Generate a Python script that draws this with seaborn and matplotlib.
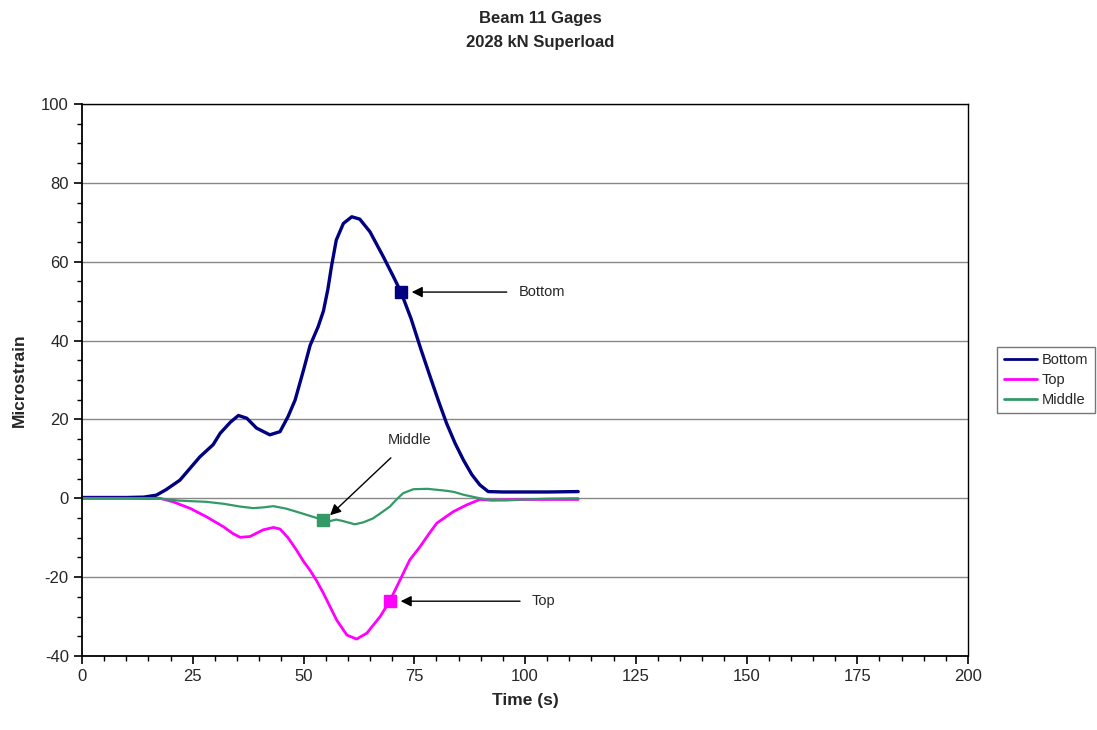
import matplotlib
matplotlib.use("Agg")
import matplotlib.pyplot as plt
from matplotlib.ticker import MultipleLocator
import seaborn as sns
import pandas as pd

# ---- data ----
bottom_t = [0, 5, 10, 14, 16.8, 19, 22.1, 26.6, 29.6, 31.2, 33.5, 35.3, 37.2, 39.4, 42.4, 44.7, 46.5, 48.1,
            50, 51.5, 53.3, 54.5, 55.5, 56.3, 57.4, 59.0, 60.9, 62.7, 65.0, 68.0, 70.3, 72.0, 74.3,
            76.5, 78.6, 80.5, 82.3, 84.2, 86.1, 88, 89.8, 91.7, 95, 100, 105, 112]
bottom_v = [0.2, 0.2, 0.2, 0.3, 0.8, 2.2, 4.6, 10.5, 13.6, 16.5, 19.3, 21.0, 20.3, 17.8, 16.1, 16.9, 20.7, 24.9,
            32.5, 38.8, 43.5, 47.5, 53.0, 58.7, 65.5, 69.7, 71.4, 70.8, 67.6, 61.3, 56.2, 52.3, 45.5,
            37.8, 30.8, 24.6, 19.0, 14.0, 9.7, 6.0, 3.4, 1.7, 1.6, 1.6, 1.6, 1.7]

top_t = [0, 5, 10, 15, 17.6, 20.6, 24.5, 28.1, 31.9, 34, 35.7, 37.9, 40.9, 43.2, 44.7, 46.5, 48.4, 50,
         51.5, 53, 54.5, 57.5, 59.8, 62.0, 64.3, 67.3, 69.5, 71.8, 74.0, 76.3, 78.2, 80.1, 83.8, 86.8, 89.8,
         92.5, 96, 100, 105, 112]
top_v = [0, 0, 0, -0.1, 0.0, -0.9, -2.6, -4.7, -7.2, -8.9, -9.9, -9.7, -8.0, -7.4, -7.8, -10.0, -13.1, -16.0,
         -18.3, -21.0, -24.1, -30.9, -34.7, -35.7, -34.2, -30.0, -26.0, -20.7, -15.6, -12.3, -9.2, -6.3, -3.4,
         -1.7, -0.3, -0.5, -0.4, -0.3, -0.3, -0.3]

middle_t = [0, 5, 10, 15, 17.5, 22.1, 28.1, 32, 35.7, 38.7, 41, 43.2, 46, 48.4, 51, 54.4, 55.5, 57.4, 59,
            61.6, 63.5, 65.7, 67.5, 69.5, 71, 72.5, 74.8, 78, 82.3, 84, 86.1, 89.8, 92, 95.8, 100, 105, 112]
middle_v = [0, 0, 0, 0, -0.1, -0.6, -0.9, -1.4, -2.1, -2.5, -2.3, -2.0, -2.6, -3.4, -4.3, -5.5, -5.9, -5.4, -5.8,
            -6.6, -6.1, -5.1, -3.7, -2.1, -0.3, 1.3, 2.3, 2.4, 1.9, 1.6, 0.9, 0.0, -0.4, -0.5, -0.3, -0.1, 0.0]

series_names = ["Bottom", "Top", "Middle"]
series_colors = ["#000080", "#FF00FF", "#339966"]

# marker points
marker_t = [72, 69.5, 54.5]
marker_v = [52.3, -26.1, -5.6]

x_ticks = [0, 25, 50, 75, 100, 125, 150, 175, 200]
y_ticks = [-40, -20, 0, 20, 40, 60, 80, 100]

# ---- build long-form table ----
frames = []
for name, t, v in zip(series_names, [bottom_t, top_t, middle_t], [bottom_v, top_v, middle_v]):
    frames.append(pd.DataFrame({"Time": t, "Microstrain": v, "series": name}))
df = pd.concat(frames, ignore_index=True)

sns.set_style("white")
plt.rcParams["font.family"] = ["Liberation Sans", "DejaVu Sans"]
plt.rcParams["axes.unicode_minus"] = False

fig = plt.figure(figsize=(10.97, 7.30), dpi=100)
ax = fig.add_axes([82 / 1097, 1 - 656 / 730, (968 - 82) / 1097, (656 - 104) / 730])

widths = {"Bottom": 2.4, "Top": 2.0, "Middle": 1.6}
for name, color in zip(series_names, series_colors):
    sub = df[df["series"] == name]
    sns.lineplot(data=sub, x="Time", y="Microstrain", color=color, lw=widths[name],
                 sort=False, estimator=None, ax=ax, label=name,
                 solid_joinstyle="round", solid_capstyle="round")

for name, color, mt, mv in zip(series_names, series_colors, marker_t, marker_v):
    ax.plot([mt], [mv], marker="s", color=color, markersize=9, linestyle="none", zorder=5)

# annotations (horizontal arrows for Bottom/Top)
ax.annotate("Bottom", xy=(73.8, marker_v[0]), xytext=(98.5, marker_v[0]), fontsize=10.5,
            va="center", ha="left",
            arrowprops=dict(arrowstyle="-|>", color="black", lw=1.0, mutation_scale=16, shrinkA=6))
ax.annotate("Top", xy=(71.3, marker_v[1]), xytext=(101.5, marker_v[1]), fontsize=10.5,
            va="center", ha="left",
            arrowprops=dict(arrowstyle="-|>", color="black", lw=1.0, mutation_scale=16, shrinkA=6))
ax.annotate("Middle", xy=(56.0, -4.3), xytext=(74, 14.8), fontsize=10.5, va="center", ha="center",
            arrowprops=dict(arrowstyle="-|>", color="black", lw=1.0, mutation_scale=16,
                            shrinkA=8, shrinkB=0))

ax.set_xlim(0, 200)
ax.set_ylim(-40, 100)
ax.set_xticks(x_ticks)
ax.set_yticks(y_ticks)
ax.xaxis.set_minor_locator(MultipleLocator(5))
ax.yaxis.set_minor_locator(MultipleLocator(5))
ax.tick_params(axis="both", which="major", direction="out", length=6, width=1.2, color="black",
               labelsize=12, bottom=True, left=True)
ax.tick_params(axis="both", which="minor", direction="out", length=3.5, width=1.0, color="black",
               bottom=True, left=True)
ax.grid(axis="y", which="major", color="#888888", lw=1.0)
ax.grid(axis="x", visible=False)
ax.set_axisbelow(True)
for side, sp in ax.spines.items():
    sp.set_color("black")
    sp.set_linewidth(1.3 if side in ("left", "bottom") else 1.0)
    sp.set_visible(True)

ax.set_xlabel("Time (s)", fontsize=12.5, fontweight="bold", labelpad=6)
ax.set_ylabel("Microstrain", fontsize=12.5, fontweight="bold", labelpad=10)

leg = ax.legend(loc="center left", bbox_to_anchor=(997 / 1097, 1 - 380 / 730),
                bbox_transform=fig.transFigure, frameon=True, fancybox=False,
                fontsize=10.5, handlelength=2.3, handletextpad=0.3, borderpad=0.45,
                labelspacing=0.4, borderaxespad=0)
leg.get_frame().set_edgecolor("#555555")
leg.get_frame().set_linewidth(1.0)
for line in leg.get_lines():
    line.set_linewidth(2.0)

fig.text(540 / 1097, 1 - 18 / 730, "Beam 11 Gages", ha="center", va="center",
         fontsize=12, fontweight="bold")
fig.text(540 / 1097, 1 - 43 / 730, "2028 kN Superload", ha="center", va="center",
         fontsize=12, fontweight="bold")

fig.savefig("out.png", dpi=100, facecolor="white")
